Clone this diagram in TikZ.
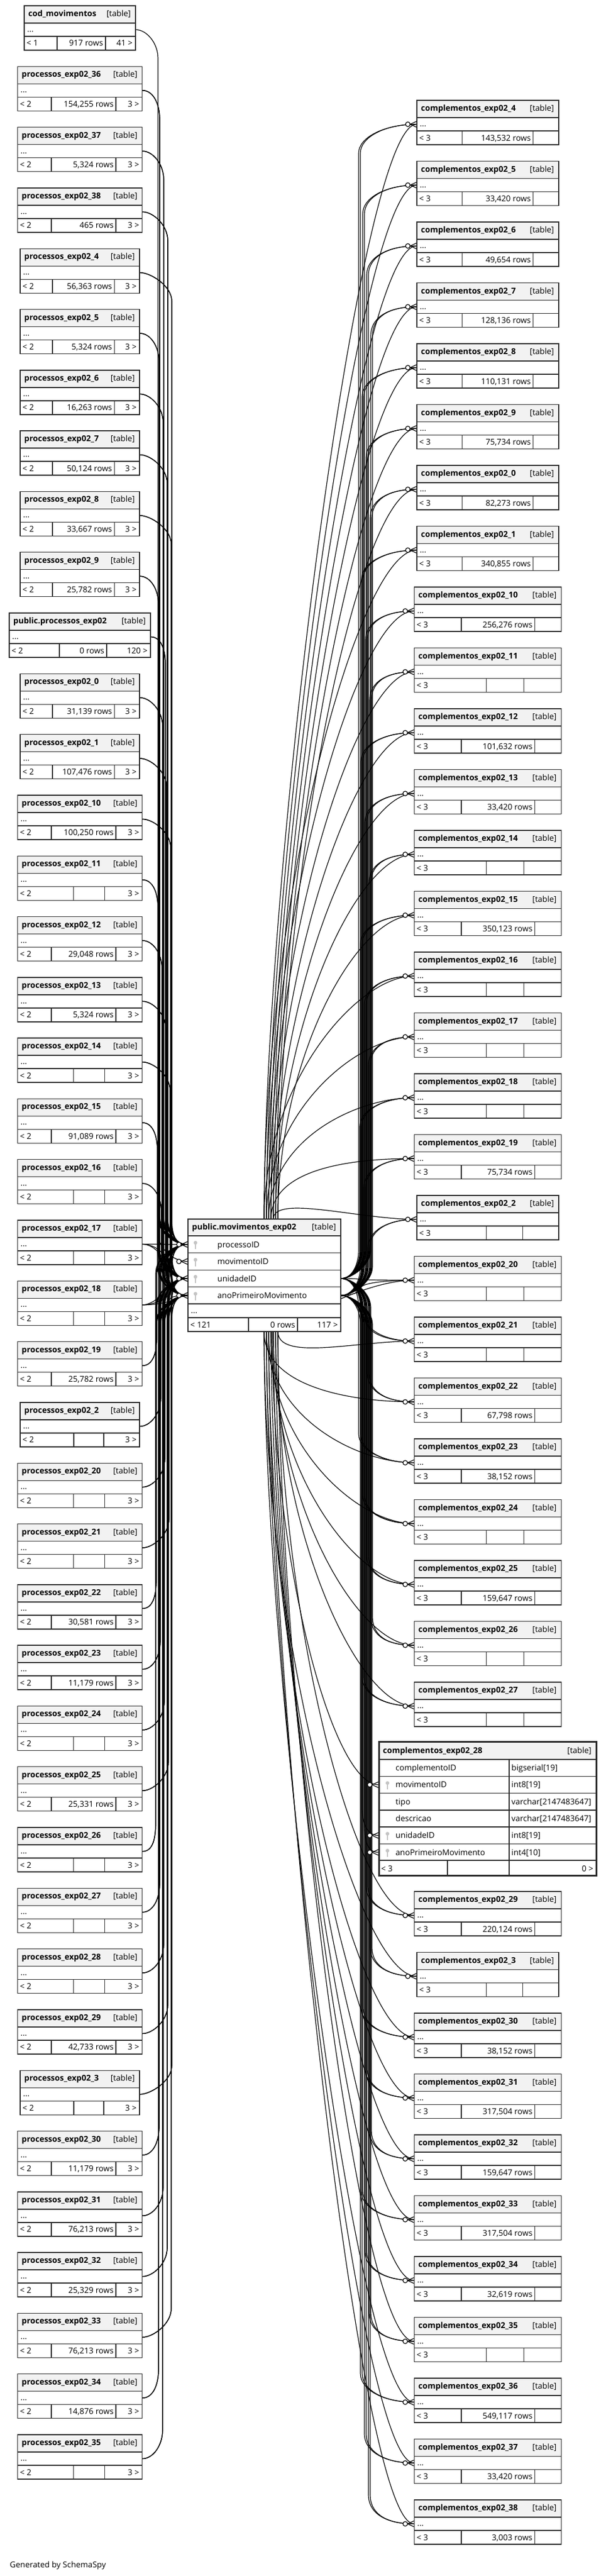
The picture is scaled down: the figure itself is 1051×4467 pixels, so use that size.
\documentclass[tikz,border=0pt]{standalone}
\usepackage{fontspec}
\setmainfont{Open Sans}
\usetikzlibrary{calc}
\pgfdeclarelayer{bg}
\pgfsetlayers{bg,main}
\definecolor{hdr}{HTML}{F2F2F2}
\definecolor{keyc}{HTML}{C4C4C4}
\definecolor{tabc}{HTML}{2B2B2B}
\newcommand{\tabfont}{\fontsize{14}{17}\selectfont}
\tikzset{
  tbl/.style={draw=tabc, line width=1.4},
  dots/.style={tbl, fill=white, minimum height=23, inner sep=0},
  field/.style={tbl, fill=white, minimum height=29.5, inner sep=0},
  title/.style={anchor=base west, inner sep=0, font=\tabfont\bfseries},
  txt/.style={anchor=base west, inner sep=0, font=\tabfont},
  txtr/.style={anchor=base east, inner sep=0, font=\tabfont},
  link/.style={draw=black, line width=1.2},
  crowfoot/.pic={\draw[link] (-11,0) -- (0,-5) (-11,0) -- (0,5);
                 \draw[link, fill=white] (-15,0) circle (4);}
}
% key glyph of a row
\newcommand{\pkey}[2]{\fill[keyc] (#1,#2-3) circle (3.2);
  \draw[keyc, line width=1.8] (#1,#2-1) -- (#1,#2+8);}
% footer cuts (fractions of the width)
\def\fullA{0.27}\def\fullB{0.79}\def\blankA{0.45}\def\blankB{0.70}
% [#1 cut override] #2 node, #3 centre x, #4 top, #5 width, #6 name, #7 parents, #8 rows, #9 children
\newcommand{\dbtable}[9][]{%
  \pgfmathsetmacro\tabL{#3-#5/2}\pgfmathsetmacro\tabR{#3+#5/2}
  \edef\tabrows{#8}
  \ifx\tabrows\empty \let\fa\blankA\let\fb\blankB \else \let\fa\fullA\let\fb\fullB \fi
  #1%
  \pgfmathsetmacro\cutA{\tabL+\fa*#5}\pgfmathsetmacro\cutB{\tabL+\fb*#5}
  \draw[tbl, fill=hdr] (\tabL,#4) rectangle (\tabR,#4+30);
  \node[title] at (\tabL+7,#4+18.5) {#6};
  \node[txtr] at (\tabR-8,#4+18.5) {[table]};
  \node[dots, minimum width=#5] (#2) at (#3,#4+41.5) {};
  \node[txt] at (\tabL+5,#4+45.5) {...};
  \draw[tbl, fill=white] (\tabL,#4+53) rectangle (\cutA,#4+77)
    (\cutA,#4+53) rectangle (\cutB,#4+77) (\cutB,#4+53) rectangle (\tabR,#4+77);
  \node[txt] at (\tabL+4,#4+70) {#7};
  \node[txtr] at (\cutB-4,#4+70) {#8};
  \node[txtr] at (\tabR-5,#4+70) {#9};
}
% #1 from, #2 its y, #3 to, #4 its y, #5 x of the trunk, #6 last bend
\newcommand{\trunk}[6]{%
  \pgfmathsetmacro\trkS{#4>#2 ? 1 : -1}
  \pgfmathsetmacro\trkB{min(50,abs(#4-#2)/2)}
  \pgfmathsetmacro\trkA{#2+\trkS*\trkB}
  \pgfmathsetmacro\trkC{#4-\trkS*\trkB}
  \pgfmathsetmacro\trkP{\trkA-\trkS*0.55*\trkB}
  \pgfmathsetmacro\trkQ{\trkC+\trkS*0.55*\trkB}
  \draw[link] (#1) .. controls +(18,0) and (#5,\trkP) .. (#5,\trkA) -- (#5,\trkC)
    .. controls (#5,\trkQ) and +(-#6,0) .. (#3);
}

\begin{document}
\begin{tikzpicture}[x=1pt,y=-1pt]
\useasboundingbox (0,0) rectangle (1051,4467);

% left column
\dbtable[\def\fa{0.295}\def\fb{0.73}]{codmov}{138.5}{10}{193}{cod\_movimentos}{< 1}{917 rows}{41 >}
\dbtable[\def\fa{0.355}\def\fb{0.69}]{pubproc}{138.5}{1063}{245}{public.processos\_exp02}{< 2}{0 rows}{120 >}
\foreach \s/\cnt [count=\k] in {36/{154,255 rows}, 37/{5,324 rows}, 38/{465 rows},
    4/{56,363 rows}, 5/{5,324 rows}, 6/{16,263 rows}, 7/{50,124 rows}, 8/{33,667 rows},
    9/{25,782 rows}, 0/{31,139 rows}, 1/{107,476 rows}, 10/{100,250 rows}, 11/{},
    12/{29,048 rows}, 13/{5,324 rows}, 14/{}, 15/{91,089 rows}, 16/{}, 17/{}, 18/{},
    19/{25,782 rows}, 2/{}, 20/{}, 21/{}, 22/{30,581 rows}, 23/{11,179 rows}, 24/{},
    25/{25,331 rows}, 26/{}, 27/{}, 28/{}, 29/{42,733 rows}, 3/{}, 30/{11,179 rows},
    31/{76,213 rows}, 32/{25,329 rows}, 33/{76,213 rows}, 34/{14,876 rows}, 35/{}}{
  \pgfmathsetmacro\ytop{10+105.3*(\k+(\k>9))}
  \pgfmathsetmacro\tw{\s<10 ? 207 : 216}
  \dbtable{proc\s}{138.5}{\ytop}{\tw}{processos\_exp02\_\s}{< 2}{\cnt}{3 >}
}

% right column
\def\fullA{0.32}\def\fullB{0.82}\def\blankA{0.49}\def\blankB{0.745}
\foreach \s/\cnt [count=\k from 0] in {4/{143,532 rows}, 5/{33,420 rows}, 6/{49,654 rows},
    7/{128,136 rows}, 8/{110,131 rows}, 9/{75,734 rows}, 0/{82,273 rows}, 1/{340,855 rows},
    10/{256,276 rows}, 11/{}, 12/{101,632 rows}, 13/{33,420 rows}, 14/{}, 15/{350,123 rows},
    16/{}, 17/{}, 18/{}, 19/{75,734 rows}, 2/{}, 20/{}, 21/{}, 22/{67,798 rows},
    23/{38,152 rows}, 24/{}, 25/{159,647 rows}, 26/{}, 27/{}, 29/{220,124 rows}, 3/{},
    30/{38,152 rows}, 31/{317,504 rows}, 32/{159,647 rows}, 33/{317,504 rows},
    34/{32,619 rows}, 35/{}, 36/{549,117 rows}, 37/{33,420 rows}, 38/{3,003 rows}}{
  \pgfmathsetmacro\ytop{174+105.5*\k+257.5*(\k>26)}
  \pgfmathsetmacro\tw{\s<10 ? 246 : 255}
  \dbtable{comp\s}{846}{\ytop}{\tw}{complementos\_exp02\_\s}{< 3}{\cnt}{}
}

% complementos_exp02_28
\draw[tbl, fill=hdr] (657,3020) rectangle (1034,3051);
\node[title] at (664,3040) {complementos\_exp02\_28};
\node[txtr] at (1026,3040) {[table]};
\foreach \fld/\typ/\isk [count=\k] in {complementoID/{bigserial[19]}/0, movimentoID/{int8[19]}/1,
    tipo/{varchar[2147483647]}/0, descricao/{varchar[2147483647]}/0,
    unidadeID/{int8[19]}/1, anoPrimeiroMovimento/{int4[10]}/1}{
  \pgfmathsetmacro\ymid{3036.3+29.3*\k}
  \node[field, minimum width=226, minimum height=29.3] (c28f\k) at (770,\ymid) {};
  \node[field, minimum width=151, minimum height=29.3] at (958.5,\ymid) {};
  \node[txt] at (686,\ymid+5) {\fld};
  \node[txt] at (887,\ymid+5) {\typ};
  \ifnum\isk=1 \pkey{672}{\ymid} \fi
}
\draw[tbl, fill=white] (657,3226) rectangle (776,3252) (776,3226) rectangle (883,3252)
  (883,3226) rectangle (1034,3252);
\node[txt] at (661,3245) {< 3};
\node[txtr] at (1029,3245) {0 >};
\draw[tabc, line width=3] (657,3020) rectangle (1034,3252);

% public.movimentos_exp02
\draw[tbl, fill=hdr] (326,2114) rectangle (591,2143);
\node[title] at (333,2132) {public.movimentos\_exp02};
\node[txtr] at (583,2132) {[table]};
\foreach \fld/\nm [count=\k from 0] in {processoID/rowproc, movimentoID/rowmov,
    unidadeID/rowuni, anoPrimeiroMovimento/rowano}{
  \pgfmathsetmacro\ymid{2158+29.5*\k}
  \node[field, minimum width=265] (\nm) at (458.5,\ymid) {};
  \node[txt] at (377,\ymid+5) {\fld};
  \pkey{339}{\ymid}
}
\node[dots, minimum width=265, minimum height=24] (movdots) at (458.5,2273) {};
\node[txt] at (331,2277.5) {...};
\draw[tbl, fill=white] (326,2285) rectangle (431,2309) (431,2285) rectangle (516,2309)
  (516,2285) rectangle (591,2309);
\node[txt] at (330,2302) {< 121};
\node[txtr] at (512,2302) {0 rows};
\node[txtr] at (586,2302) {117 >};
\coordinate (movtop) at (470,2114);
\coordinate (movbot) at (470,2309);

\begin{pgfonlayer}{bg}
\trunk{codmov.east}{51.5}{rowmov.west}{2187.5}{274}{25}
\foreach \tgt/\yTo in {rowproc/2158,rowuni/2217,rowano/2246.5}{
  \trunk{pubproc.east}{1104.5}{\tgt.west}{\yTo}{287}{22}
}
\foreach \s [count=\k] in {36,37,38,4,5,6,7,8,9,0,1,10,11,12,13,14,15,16,17,18,19,
    2,20,21,22,23,24,25,26,27,28,29,3,30,31,32,33,34,35}{
  \pgfmathsetmacro\yFrom{51.5+105.3*(\k+(\k>9))}
  \pgfmathsetmacro\xTrunk{270+mod(\k*7,29)}
  \foreach \tgt/\yTo in {rowproc/2158,rowuni/2217,rowano/2246.5}{
    \trunk{proc\s.east}{\yFrom}{\tgt.west}{\yTo}{\xTrunk}{25}
  }
}
\foreach \s [count=\k from 0] in {4,5,6,7,8,9,0,1,10,11,12,13,14,15,16,17,18,19,
    2,20,21,22,23,24,25,26,27,29,3,30,31,32,33,34,35,36,37,38}{
  \pgfmathsetmacro\yTo{215.5+105.5*\k+257.5*(\k>26)}
  \pgfmathsetmacro\xTrunk{622+mod(\k*7,22)}
  \pgfmathsetmacro\dx{mod(\k,7)*4-12}
  \pgfmathsetmacro\lift{min(abs(\yTo-2210)*0.45,600)}
  \trunk{rowuni.east}{2217}{comp\s.west}{\yTo}{\xTrunk}{55}
  \trunk{rowano.east}{2246.5}{comp\s.west}{\yTo}{\xTrunk+3}{55}
  \ifdim\yTo pt<2200pt
    \draw[link] ([xshift=\dx]movtop) .. controls +(0,-\lift) and +(-100,0) .. (comp\s.west);
  \else
    \draw[link] ([xshift=\dx]movbot) .. controls +(0,\lift) and +(-100,0) .. (comp\s.west);
  \fi
}
\trunk{rowuni.east}{2217}{c28f5.west}{3183.8}{628}{20}
\trunk{rowano.east}{2246.5}{c28f6.west}{3213.1}{632}{20}
\draw[link] ([xshift=2]movbot) .. controls +(0,400) and +(-80,0) .. (c28f2.west);
\end{pgfonlayer}

\foreach \nm in {rowproc,rowmov,rowuni,rowano,c28f2,c28f5,c28f6}
  \pic at (\nm.west) {crowfoot};
\foreach \s in {4,5,6,7,8,9,0,1,10,11,12,13,14,15,16,17,18,19,
    2,20,21,22,23,24,25,26,27,29,3,30,31,32,33,34,35,36,37,38}
  \pic at (comp\s.west) {crowfoot};

\node[txt] at (17,4452) {Generated by SchemaSpy};
\end{tikzpicture}
\end{document}
